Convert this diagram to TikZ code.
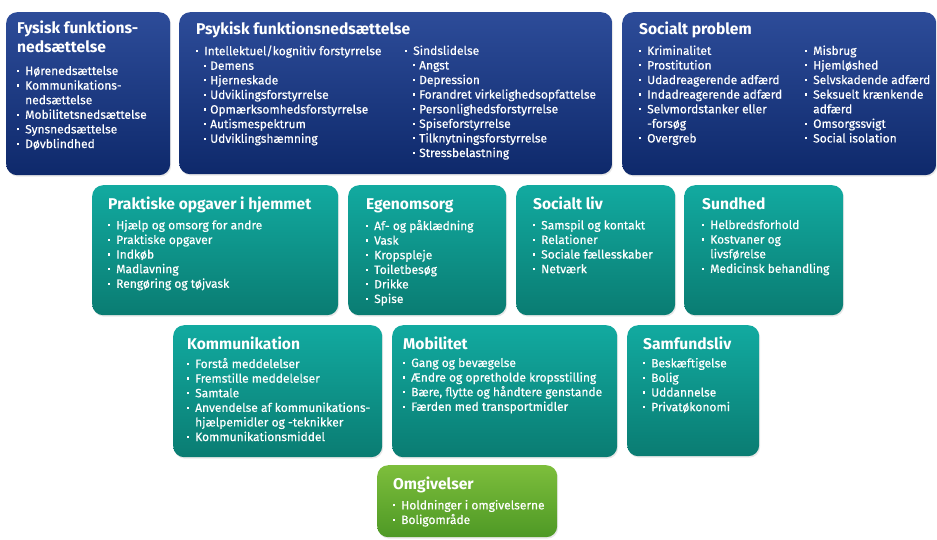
\documentclass[tikz,border=0pt]{standalone}
\usepackage{fontspec}
\setmainfont{Fira Sans}
\newfontfamily\itemfont{Fira Sans}[FakeBold=0.5]
\usetikzlibrary{shadows}
\definecolor{bluetop}{HTML}{2D4C99}
\definecolor{bluebot}{HTML}{0E296B}
\definecolor{tealtop}{HTML}{12AAA0}
\definecolor{tealbot}{HTML}{0A7C72}
\definecolor{greentop}{HTML}{7DBE3C}
\definecolor{greenbot}{HTML}{4E9925}
\newcommand{\blt}{\makebox[8pt][l]{\rule[0.25em]{2.2pt}{2.2pt}}}
\newcommand{\sblt}{\hspace*{8pt}\makebox[6pt][l]{\rule[0.25em]{2.2pt}{2.2pt}}}
\newcommand{\hang}{\hspace*{8pt}}

\begin{document}
\begin{tikzpicture}[x=1pt,y=-1pt]
  \tikzset{
    box/.style={anchor=north west, rounded corners=11pt, inner sep=0pt,
      drop shadow={opacity=0.18, shadow xshift=1pt, shadow yshift=-1.5pt}},
    bluebox/.style={box, top color=bluetop, bottom color=bluebot},
    tealbox/.style={box, top color=tealtop, bottom color=tealbot},
    greenbox/.style={box, top color=greentop, bottom color=greenbot},
    head/.style={anchor=north west, inner sep=0pt, text=white, align=left,
      font=\fontsize{15.6}{18.5}\selectfont\bfseries, execute at begin node=\strut},
    items/.style={anchor=north west, inner sep=0pt, text=white, align=left,
      font=\itemfont\fontsize{12}{14.6}\selectfont, execute at begin node=\strut}
  }
  \useasboundingbox (0,0) rectangle (937,539);

  % top row
  \node[bluebox, minimum width=164pt, minimum height=163pt] (fysbox) at (6,12) {};
  \node[head] (fys) at (17,21) {Fysisk funktions-\\nedsættelse};
  \node[items] (fysitems) at (17,65.8) {\blt Hørenedsættelse\\ \blt Kommunikations-\\ \hang nedsættelse\\
    \blt Mobilitetsnedsættelse\\ \blt Synsnedsættelse\\ \blt Døvblindhed};

  \node[bluebox, minimum width=433pt, minimum height=162pt] (psybox) at (179,12) {};
  \node[head] (psy) at (196,21) {Psykisk funktionsnedsættelse};
  \node[items] (psyleft) at (196,45.3) {\blt Intellektuel/kognitiv forstyrrelse\\ \sblt Demens\\ \sblt Hjerneskade\\
    \sblt Udviklingsforstyrrelse\\ \sblt Opmærksomhedsforstyrrelse\\ \sblt Autismespektrum\\ \sblt Udviklingshæmning};
  \node[items] (psyright) at (405,45.3) {\blt Sindslidelse\\ \sblt Angst\\ \sblt Depression\\
    \sblt Forandret virkelighedsopfattelse\\ \sblt Personlighedsforstyrrelse\\ \sblt Spiseforstyrrelse\\
    \sblt Tilknytningsforstyrrelse\\ \sblt Stressbelastning};

  \node[bluebox, minimum width=314pt, minimum height=163pt] (socbox) at (622,12) {};
  \node[head] (soc) at (639,21) {Socialt problem};
  \node[items] (socleft) at (639,45.3) {\blt Kriminalitet\\ \blt Prostitution\\ \blt Udadreagerende adfærd\\
    \blt Indadreagerende adfærd\\ \blt Selvmordstanker eller\\ \hang -forsøg\\ \blt Overgreb};
  \node[items] (socright) at (805,45.3) {\blt Misbrug\\ \blt Hjemløshed\\ \blt Selvskadende adfærd\\
    \blt Seksuelt krænkende\\ \hang adfærd\\ \blt Omsorgssvigt\\ \blt Social isolation};

  % middle row
  \node[tealbox, minimum width=246pt, minimum height=130pt] (prabox) at (92,185) {};
  \node[head] (pra) at (108,196) {Praktiske opgaver i hjemmet};
  \node[items] (praitems) at (108,219.8) {\blt Hjælp og omsorg for andre\\ \blt Praktiske opgaver\\ \blt Indkøb\\
    \blt Madlavning\\ \blt Rengøring og tøjvask};

  \node[tealbox, minimum width=158pt, minimum height=130pt] (egebox) at (348,185) {};
  \node[head] (ege) at (366,196) {Egenomsorg};
  \node[items] (egeitems) at (366,219.8) {\blt Af- og påklædning\\ \blt Vask\\ \blt Kropspleje\\
    \blt Toiletbesøg\\ \blt Drikke\\ \blt Spise};

  \node[tealbox, minimum width=159pt, minimum height=130pt] (livbox) at (516,185) {};
  \node[head] (liv) at (533,196) {Socialt liv};
  \node[items] (livitems) at (533,219.8) {\blt Samspil og kontakt\\ \blt Relationer\\ \blt Sociale fællesskaber\\ \blt Netværk};

  \node[tealbox, minimum width=159pt, minimum height=130pt] (sunbox) at (684,185) {};
  \node[head] (sun) at (702,196) {Sundhed};
  \node[items] (sunitems) at (702,219.8) {\blt Helbredsforhold\\ \blt Kostvaner og\\ \hang livsførelse\\ \blt Medicinsk behandling};

  % bottom row
  \node[tealbox, minimum width=209pt, minimum height=132pt] (kombox) at (173,325) {};
  \node[head] (kom) at (187,336) {Kommunikation};
  \node[items] (komitems) at (187,357.8) {\blt Forstå meddelelser\\ \blt Fremstille meddelelser\\ \blt Samtale\\
    \blt Anvendelse af kommunikations-\\ \hang hjælpemidler og -teknikker\\ \blt Kommunikationsmiddel};

  \node[tealbox, minimum width=225pt, minimum height=132pt] (mobbox) at (392,325) {};
  \node[head] (mob) at (403,336) {Mobilitet};
  \node[items] (mobitems) at (403,357.8) {\blt Gang og bevægelse\\ \blt Ændre og opretholde kropsstilling\\
    \blt Bære, flytte og håndtere genstande\\ \blt Færden med transportmidler};

  \node[tealbox, minimum width=132pt, minimum height=131pt] (samfbox) at (627,325) {};
  \node[head] (samf) at (643,336) {Samfundsliv};
  \node[items] (samfitems) at (643,357.8) {\blt Beskæftigelse\\ \blt Bolig\\ \blt Uddannelse\\ \blt Privatøkonomi};

  \node[greenbox, minimum width=180pt, minimum height=72pt] (omgbox) at (377,465) {};
  \node[head] (omg) at (393,476) {Omgivelser};
  \node[items] (omgitems) at (393,499.8) {\blt Holdninger i omgivelserne\\ \blt Boligområde};
\end{tikzpicture}
\end{document}
